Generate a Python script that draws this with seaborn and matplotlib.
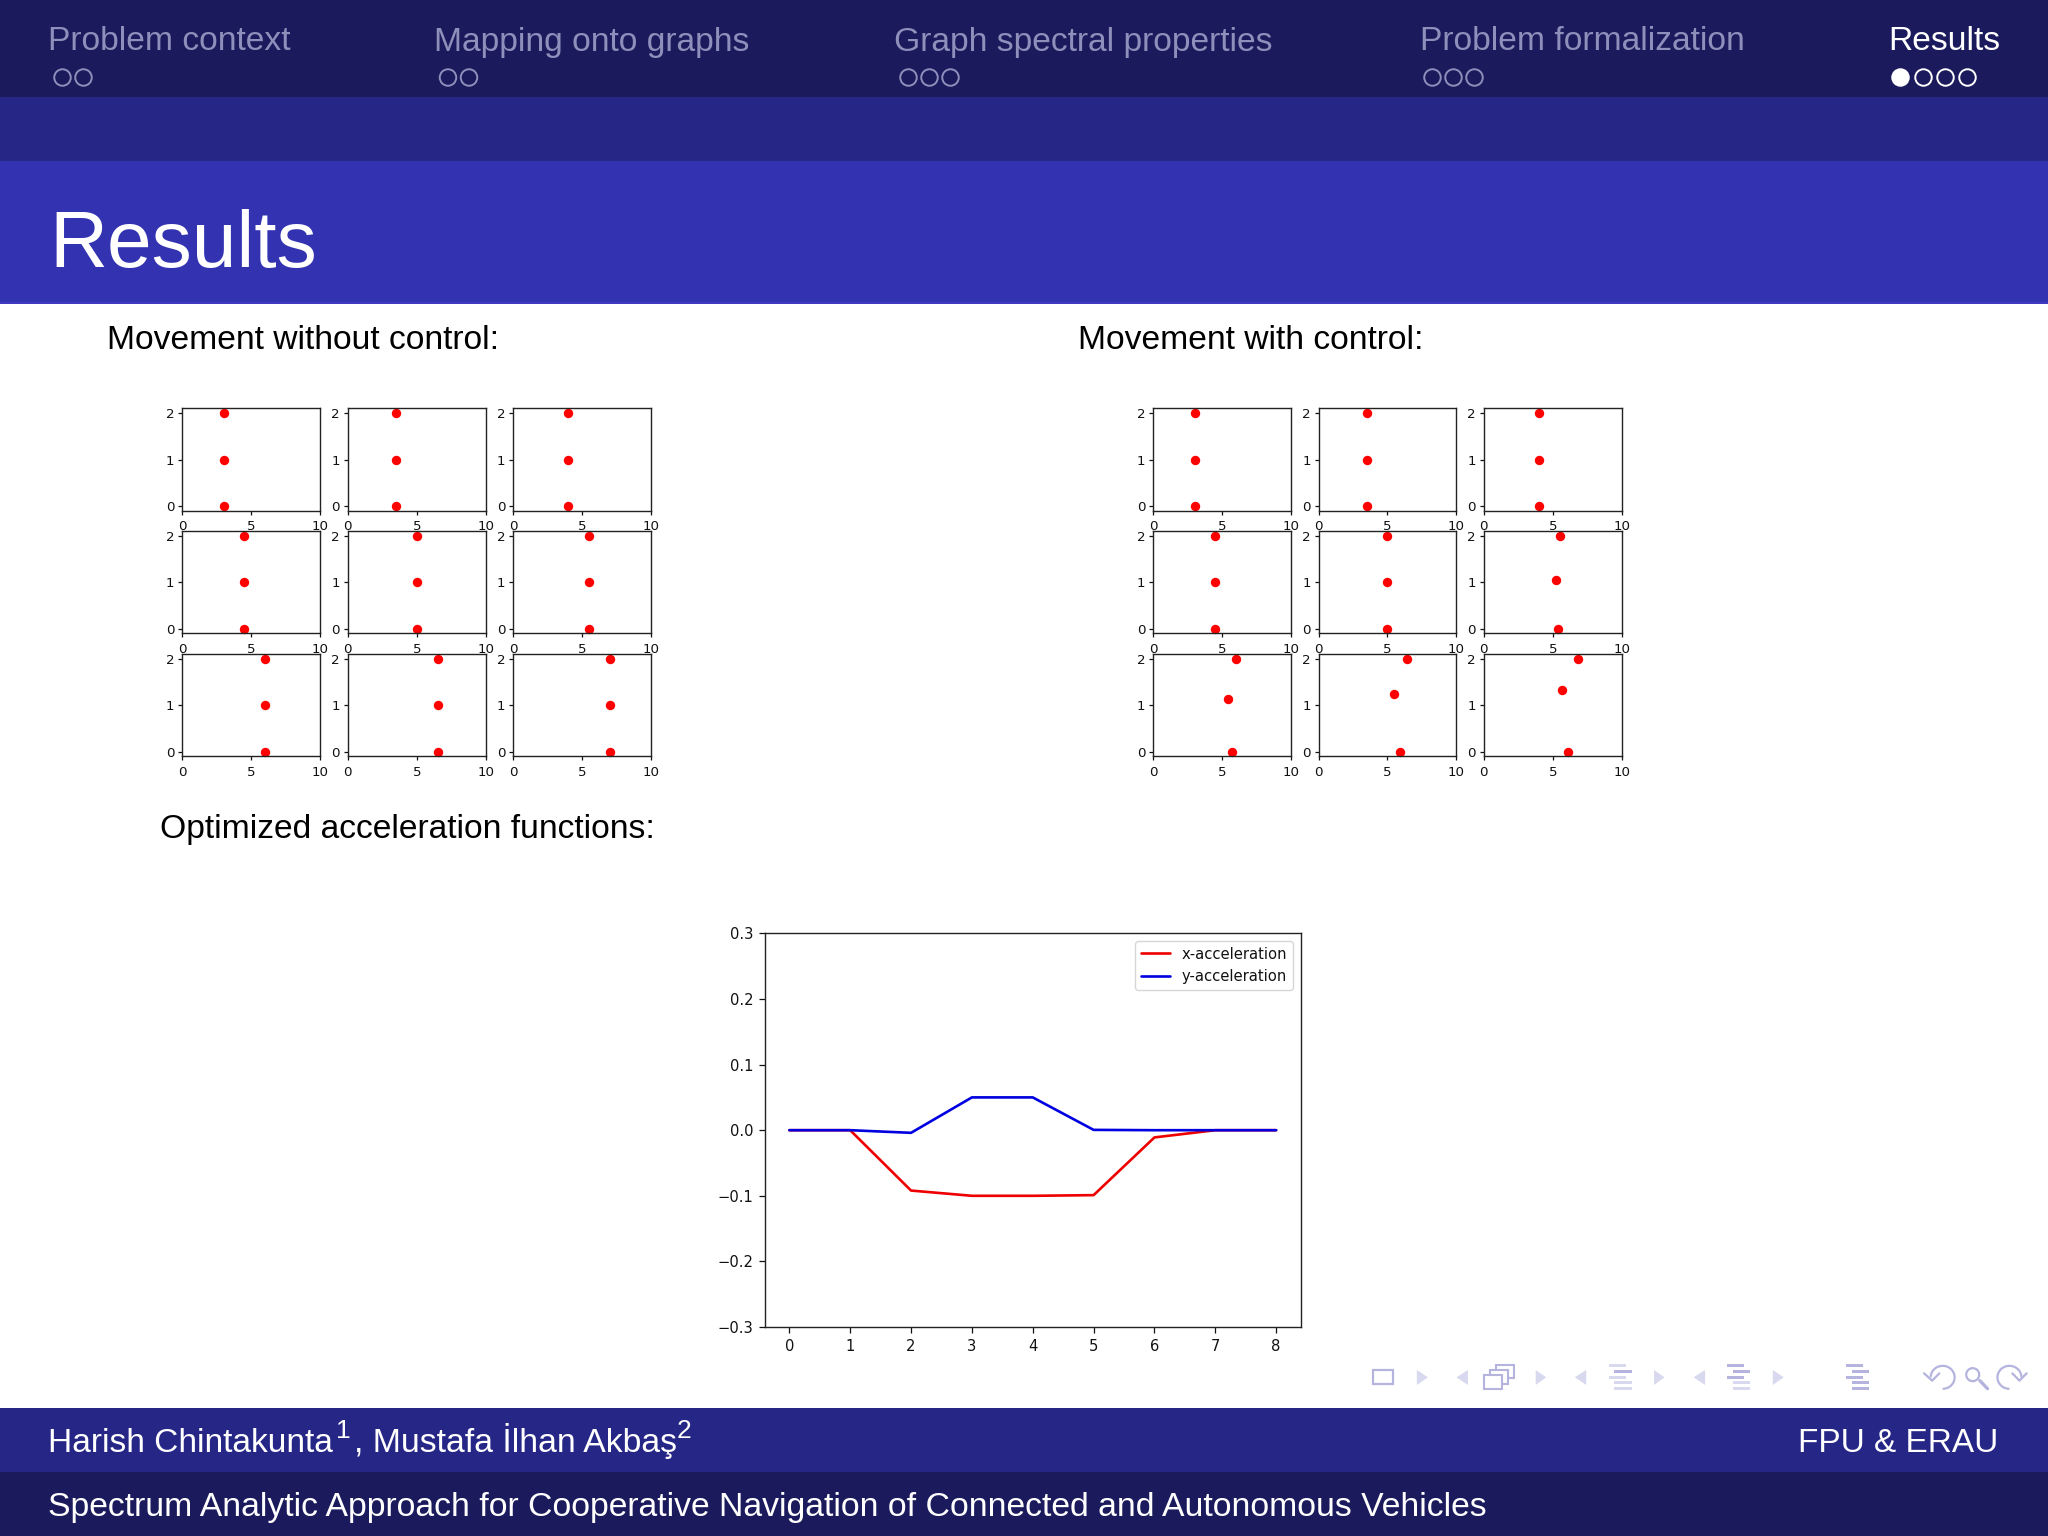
import matplotlib
matplotlib.use("Agg")
import matplotlib.pyplot as plt
from matplotlib.patches import Rectangle, Polygon, Circle, Ellipse, Arc
import pandas as pd
import seaborn as sns

# ---- data ----
row_y = [0, 1, 2]
free_x = [[3, 3, 3], [3.5, 3.5, 3.5], [4, 4, 4],
          [4.5, 4.5, 4.5], [5, 5, 5], [5.5, 5.5, 5.5],
          [6, 6, 6], [6.5, 6.5, 6.5], [7, 7, 7]]
ctrl_x = [[3, 3, 3], [3.5, 3.5, 3.5], [4, 4, 4],
          [4.5, 4.5, 4.5], [5, 4.95, 5], [5.4, 5.2, 5.5],
          [5.7, 5.4, 6.0], [5.9, 5.5, 6.4], [6.1, 5.65, 6.85]]
ctrl_y = [[0, 1, 2], [0, 1, 2], [0, 1, 2],
          [0, 1, 2], [0, 1, 2], [0, 1.04, 2],
          [0, 1.14, 2], [0, 1.23, 2], [0, 1.33, 2]]
steps = [0, 1, 2, 3, 4, 5, 6, 7, 8]
x_acc = [0, 0, -0.092, -0.1, -0.1, -0.099, -0.011, 0, 0]
y_acc = [0, 0, -0.004, 0.05, 0.05, 0.0005, 0, 0, 0]

nav_sections = ["Problem context", "Mapping onto graphs", "Graph spectral properties",
                "Problem formalization", "Results"]
nav_x = [48.5, 434, 893.5, 1419.5, 1888.5]
nav_dots = [[62.5, 83.5], [448, 469], [908.5, 929.5, 950.5], [1432.5, 1453.5, 1474.5], [1900.5, 1923.5, 1945.5, 1967.5]]

W, H = 2048, 1536
sns.set_theme(style="ticks", rc={"axes.linewidth": 1.0, "xtick.major.width": 0.9,
                                 "ytick.major.width": 0.9, "axes.edgecolor": "#222222",
                                 "text.color": "#111111", "xtick.color": "#111111",
                                 "ytick.color": "#111111"})
plt.rcParams["font.family"] = ["DejaVu Sans"]
SLIDE = ["Liberation Sans", "DejaVu Sans"]

fig = plt.figure(figsize=(W / 100, H / 100), dpi=100, facecolor="white")


def pix_axes(x0, y0, x1, y1):
    return fig.add_axes([x0 / W, 1 - y1 / H, (x1 - x0) / W, (y1 - y0) / H])


# ---- slide background ----
bg = fig.add_axes([0, 0, 1, 1], zorder=0)
bg.set_xlim(0, W)
bg.set_ylim(H, 0)
bg.axis("off")
DARK, MID, BRIGHT = "#1a1a5c", "#262687", "#3333b2"
for y0, y1, c in [(0, 97, DARK), (97, 161, MID), (161, 303, BRIGHT),
                  (1408, 1472, MID), (1472, 1536, DARK)]:
    bg.add_patch(Rectangle((0, y0), W, y1 - y0, fc=c, ec="none"))
bg.add_patch(Rectangle((0, 302), W, 2, fc="#4038c0", ec="none"))


def t(x, y, s, size, color="white", ha="left"):
    bg.text(x, y, s, fontsize=size, color=color, ha=ha, va="baseline", family=SLIDE)


FADED = "#8f8fbb"
for i, (name, x) in enumerate(zip(nav_sections, nav_x)):
    active = i == len(nav_sections) - 1
    t(x, 50.5, name, 24.2, "white" if active else FADED)
    for j, cx in enumerate(nav_dots[i]):
        col = "white" if active else FADED
        filled = active and j == 0
        bg.add_patch(Ellipse((cx, 77.5), 16.5, 16.5, fc=col if filled else "none", ec=col, lw=1.4))

t(49, 267, "Results", 57.8)
t(107, 349, "Movement without control:", 24.2, "black")
t(1077.5, 349, "Movement with control:", 24.2, "black")
t(159.5, 838, "Optimized acceleration functions:", 24.2, "black")

t(48.5, 1452, "Harish Chintakunta", 24.1)
t(336, 1438, "1", 19)
t(354, 1452, ", Mustafa İlhan Akbaş", 24.3)
t(677, 1438, "2", 19)
t(1998.5, 1452, "FPU & ERAU", 24, ha="right")
t(48.5, 1516, "Spectrum Analytic Approach for Cooperative Navigation of Connected and Autonomous Vehicles", 24.3)

# ---- beamer navigation symbols ----
ICON, ICON2 = "#b4b4de", "#d8d8ee"


def px(X):
    return 1300 + X / 2.096


def py(Y):
    return 1340 + Y / 3


def tri(X0, X1, right=True):
    a, b = (X0, X1) if right else (X1, X0)
    bg.add_patch(Polygon([(px(a), py(90)), (px(a), py(135)), (px(b), py(112))], fc=ICON2, ec="none"))


def bars(X0, X1, col_pattern):
    for k, Y in enumerate([76, 94, 112, 127, 145]):
        off = [0, 12, 0, 12, 12][k]
        bg.add_patch(Rectangle((px(X0 + off), py(Y - 4)), 36 / 2.096, 8 / 3,
                               fc=col_pattern[k], ec="none"))


bg.add_patch(Rectangle((px(152), py(90)), 42 / 2.096, 42 / 3, fc="none", ec=ICON, lw=1.6))
tri(245, 268)
tri(328, 352, False)
for dx, dy, col in [(24, -31, ICON), (12, -15, ICON), (0, 0, ICON)]:
    bg.add_patch(Rectangle((px(386 + dx), py(106 + dy)), 38 / 2.096, 40 / 3, fc="white", ec=col, lw=1.5))
tri(494, 516)
tri(576, 600, False)
bars(647, 695, [ICON2, ICON, ICON2, ICON2, ICON2])
tri(742, 764)
tri(825, 849, False)
bars(895, 943, [ICON, ICON, ICON, ICON2, ICON2])
tri(991, 1014)
bars(1145, 1193, [ICON, ICON, ICON, ICON, ICON])
# back, zoom, forward
bg.add_patch(Arc((px(1347), py(112)), 24, 23, theta1=-180, theta2=90, ec=ICON, lw=1.6))
bg.plot([px(1308), px(1325), px(1340)], [py(100), py(122), py(100)], color=ICON, lw=1.6)
bg.add_patch(Circle((px(1410), py(104)), 6.5, fc="none", ec=ICON, lw=1.6))
bg.plot([px(1425), px(1441)], [py(122), py(146)], color=ICON, lw=2.4)
bg.add_patch(Arc((px(1487), py(112)), 24, 23, theta1=90, theta2=360, ec=ICON, lw=1.6))
bg.plot([px(1493), px(1508), px(1523)], [py(100), py(122), py(100)], color=ICON, lw=1.6)

# ---- small panels ----
rows = [(408.4, 510.7), (531, 633.4), (654, 756.4)]
left_cols = [(182.2, 320.3), (347.8, 485.9), (513.1, 651.2)]
right_cols = [(1153.2, 1291), (1318.5, 1456.3), (1483.8, 1621.9)]


def grid_panels(cols, xs, ys):
    k = 0
    for r0, r1 in rows:
        for c0, c1 in cols:
            ax = pix_axes(c0, r0, c1, r1)
            ax.set_zorder(2 + k)
            ax.patch.set_alpha(0)
            sns.scatterplot(x=xs[k], y=ys[k], ax=ax, color="#ff0000", s=46, linewidth=0, clip_on=False)
            ax.set_xlim(0, 10)
            ax.set_ylim(-0.1, 2.1)
            ax.set_xticks([0, 5, 10])
            ax.set_yticks([0, 1, 2])
            ax.tick_params(labelsize=9.6, length=2.6, pad=3)
            ax.tick_params(axis="x", pad=4)
            k += 1


grid_panels(left_cols, free_x, [row_y] * 9)
grid_panels(right_cols, ctrl_x, ctrl_y)

# ---- acceleration chart ----
ax = pix_axes(765, 933.4, 1300.5, 1327)
ax.set_zorder(30)
ax.patch.set_alpha(0)
df = pd.DataFrame({"step": steps, "x-acceleration": x_acc, "y-acceleration": y_acc})
sns.lineplot(data=df, x="step", y="x-acceleration", ax=ax, color="#ee0000", lw=1.9,
             label="x-acceleration", errorbar=None)
sns.lineplot(data=df, x="step", y="y-acceleration", ax=ax, color="#0000e0", lw=1.9,
             label="y-acceleration", errorbar=None)
ax.set_xlim(-0.4, 8.4)
ax.set_ylim(-0.3, 0.3)
ax.set_xticks(steps)
ax.set_yticks([-0.3, -0.2, -0.1, 0.0, 0.1, 0.2, 0.3])
ax.set_xlabel("")
ax.set_ylabel("")
ax.tick_params(labelsize=10.6, length=4.5, pad=4)
ax.legend(loc="upper right", fontsize=10.6, frameon=True, framealpha=0.8, edgecolor="#cccccc", fancybox=True)

fig.savefig("out.png", dpi=100)
